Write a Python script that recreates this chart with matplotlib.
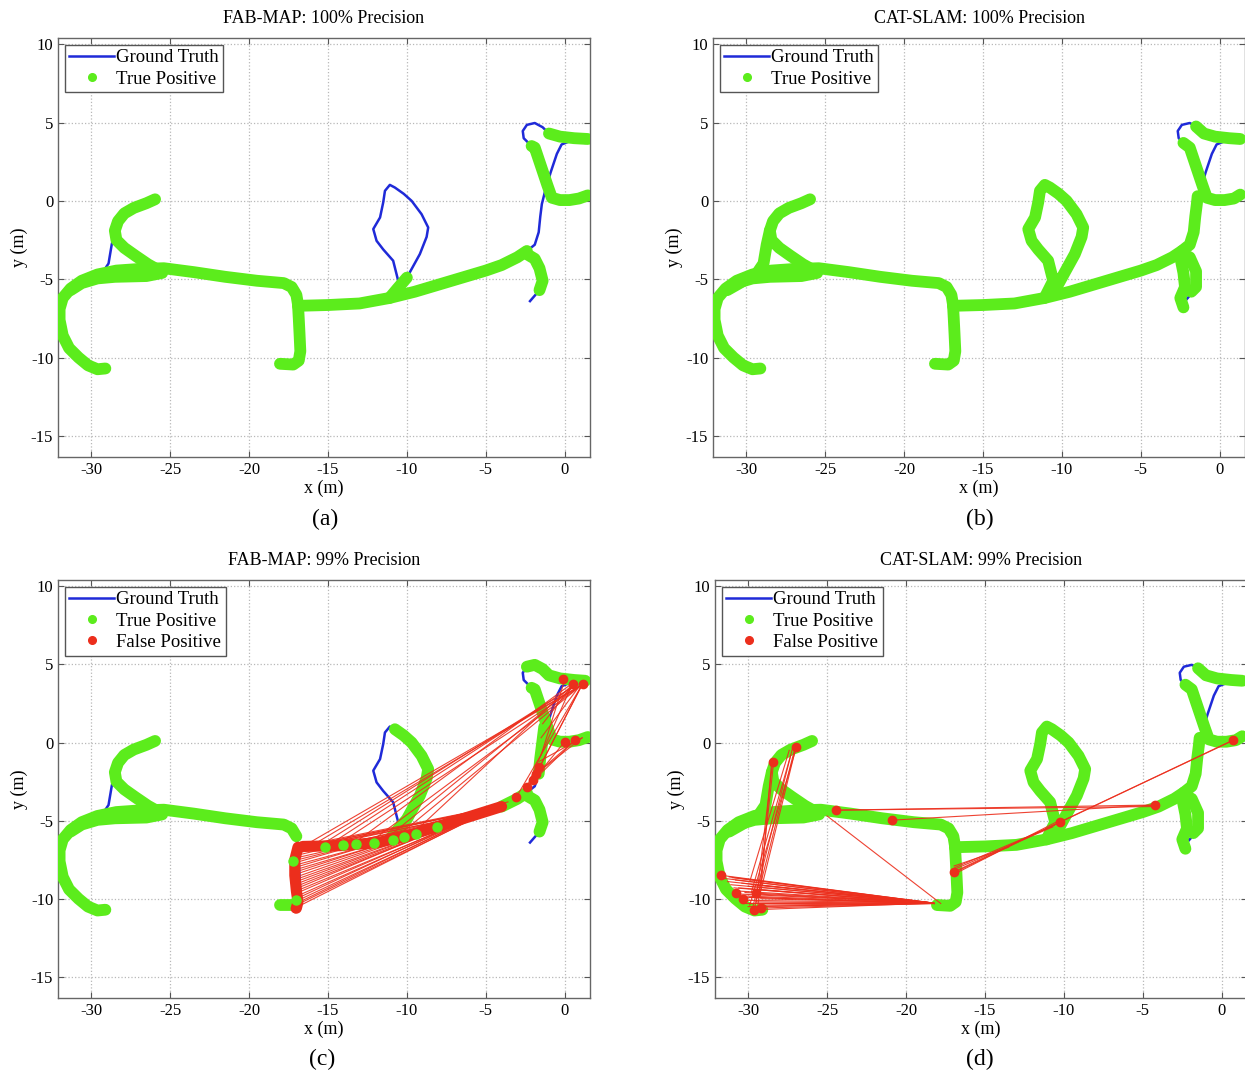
import numpy as np
import matplotlib.pyplot as plt
from matplotlib.lines import Line2D

plt.rcParams['font.family'] = ['Liberation Serif', 'DejaVu Serif']
plt.rcParams['axes.unicode_minus'] = False

# ---- ground truth route, split into pieces (x, y in metres) ----
gt_top_left = [(-25.95, 0.1), (-26.5, -0.15), (-27.3, -0.45), (-27.9, -0.8), (-28.3, -1.3),
               (-28.5, -1.9), (-28.4, -2.5), (-27.9, -3.0), (-27.2, -3.5), (-26.4, -4.05),
               (-25.6, -4.5)]
gt_left_loop = [(-28.5, -1.9), (-28.7, -2.8), (-28.9, -4.0), (-29.3, -4.6), (-30.5, -5.3), (-31.2, -5.7)]
gt_band = [(-31.3, -5.7), (-30.6, -5.25), (-29.6, -4.95), (-28.5, -4.85), (-26.5, -4.8), (-25.5, -4.6)]
gt_main_left = [(-29.1, -10.7), (-29.6, -10.75), (-30.2, -10.5), (-30.8, -10.0), (-31.4, -9.4),
                (-31.8, -8.6), (-32.0, -7.6), (-32.0, -6.9), (-31.8, -6.2), (-31.3, -5.6),
                (-30.6, -5.1), (-29.6, -4.7), (-28.4, -4.45), (-27.0, -4.35), (-25.4, -4.3),
                (-23.5, -4.55), (-21.5, -4.85), (-19.5, -5.1), (-17.8, -5.25), (-17.3, -5.5),
                (-17.0, -6.0), (-16.9, -6.6), (-16.85, -7.5), (-16.8, -8.5), (-16.75, -9.6),
                (-16.85, -10.2), (-17.2, -10.45), (-18.04, -10.4)]
gt_main_mid = [(-16.9, -6.7), (-15.0, -6.65), (-13.0, -6.55), (-11.1, -6.2), (-9.5, -5.8),
               (-8.0, -5.35), (-6.5, -4.9), (-5.0, -4.45), (-4.0, -4.1), (-3.0, -3.6), (-2.4, -3.2)]
gt_loop_mid = [(-11.1, -6.2), (-10.55, -5.1), (-10.87, -3.82), (-11.5, -3.1), (-11.92, -2.55),
               (-12.13, -1.8), (-11.7, -1.06), (-11.5, -0.1), (-11.39, 0.64), (-11.08, 1.02),
               (-10.76, 0.85), (-10.2, 0.45), (-9.7, 0.0), (-9.07, -0.85), (-8.65, -1.7),
               (-8.75, -2.3), (-9.18, -3.4), (-9.7, -4.35), (-10.0, -4.9), (-10.6, -6.0)]
gt_right_up = [(-2.4, -3.2), (-1.9, -2.8), (-1.65, -2.0), (-1.55, -1.0), (-1.45, -0.2),
               (-1.25, 0.6), (-0.9, 1.8), (-0.5, 3.0), (-0.2, 3.6), (0.3, 3.8), (0.9, 3.75),
               (1.3, 3.7), (1.6, 4.05)]
gt_right_loop = [(1.46, 3.95), (0.6, 4.0), (-0.3, 4.1), (-1.0, 4.3), (-1.4, 4.7), (-1.9, 4.97),
                 (-2.4, 4.85), (-2.66, 4.46), (-2.6, 4.0), (-2.3, 3.7), (-1.9, 3.4), (-1.5, 2.2),
                 (-1.1, 1.0), (-0.82, 0.2), (-0.3, 0.05), (0.3, 0.05), (0.9, 0.15), (1.46, 0.35)]
gt_right_down = [(-2.4, -3.4), (-1.9, -3.7), (-1.6, -4.3), (-1.4, -5.1), (-1.6, -5.7), (-2.2, -6.4)]

ground_truth = [gt_top_left, gt_left_loop, gt_band, gt_main_left, gt_main_mid,
                gt_loop_mid, gt_right_up, gt_right_loop, gt_right_down]

# ---- partial true-positive stretches ----
tp_loop_base = [(-11.1, -6.2), (-10.6, -5.6), (-10.0, -4.9)]
tp_loop_right = [(-11.1, -6.2), (-10.6, -5.6), (-10.0, -4.9), (-9.7, -4.35), (-9.18, -3.4),
                 (-8.75, -2.3), (-8.65, -1.7), (-9.07, -0.85), (-9.7, 0.0), (-10.2, 0.45), (-10.76, 0.85)]
tp_rloop_top = [(1.46, 3.95), (0.6, 4.0), (-0.3, 4.1), (-1.0, 4.3)]
tp_rloop_top_long = [(1.3, 3.95), (0.6, 4.0), (-0.3, 4.1), (-1.0, 4.3), (-1.4, 4.7), (-1.9, 4.97), (-2.4, 4.85)]
tp_rloop_top_b = [(1.3, 3.95), (0.6, 4.0), (-0.3, 4.1), (-1.0, 4.3), (-1.5, 4.75)]
tp_rloop_diag = [(-2.1, 3.5), (-1.9, 3.4), (-1.5, 2.2), (-1.1, 1.0), (-0.82, 0.2), (-0.3, 0.05),
                 (0.3, 0.05), (0.9, 0.15), (1.46, 0.35)]
tp_rloop_diag_b = [(-2.3, 3.7), (-1.9, 3.4), (-1.5, 2.2), (-1.1, 1.0), (-0.82, 0.2), (-0.3, 0.05),
                   (0.3, 0.05), (0.9, 0.15), (1.3, 0.4)]
tp_right_up_low = [(-2.4, -3.2), (-1.9, -2.8), (-1.65, -2.0), (-1.55, -1.0), (-1.45, -0.2), (-1.4, 0.3)]
tp_right_up_c = [(-1.65, -2.0), (-1.55, -1.0), (-1.45, -0.2), (-1.3, 1.0)]
tp_right_down = [(-2.4, -3.4), (-1.9, -3.7), (-1.6, -4.3), (-1.4, -5.1), (-1.6, -5.7)]
tp_right_down_b = [(-2.4, -3.4), (-1.9, -3.6), (-1.5, -4.5), (-1.5, -5.5), (-1.8, -5.8)]
tp_right_down_b2 = [(-2.5, -3.6), (-2.3, -4.6), (-2.2, -5.5), (-2.5, -6.2), (-2.3, -6.8)]
tp_main_end = [(-4.0, -4.1), (-3.0, -3.6), (-2.4, -3.2)]
tp_vert_foot = [(-17.0, -10.4), (-18.04, -10.4)]
tp_main_left_c = gt_main_left[:21]

tp_dots_c = [(-15.2, -6.67), (-14.03, -6.56), (-13.2, -6.5), (-12.1, -6.45), (-10.9, -6.24),
             (-10.2, -6.03), (-9.4, -5.86), (-8.1, -5.4), (-17.2, -7.6), (-17.0, -10.1)]

# ---- false positives: dense stretches and match lines ----
fp_c_band = [(-16.6, -6.65), (-14.2, -6.6), (-11.8, -6.4), (-9.4, -5.8), (-7.0, -5.05), (-4.0, -4.1)]
fp_c_vert = [(-16.9, -6.7), (-17.1, -7.5), (-17.1, -8.5), (-17.0, -9.5), (-16.9, -10.2), (-17.0, -10.6)]
fp_c_src = [(-17.0, -6.8), (-17.0, -6.95), (-17.1, -7.1), (-17.1, -7.25), (-17.1, -7.4), (-17.1, -7.55),
            (-17.1, -7.7), (-17.1, -7.85), (-17.1, -8.0), (-17.1, -8.15), (-17.1, -8.3), (-17.1, -8.45),
            (-17.0, -8.6), (-17.0, -8.75), (-17.0, -8.9), (-17.0, -9.05), (-17.0, -9.2), (-17.0, -9.35),
            (-17.0, -9.5), (-17.0, -9.65), (-16.9, -9.8), (-16.9, -9.95), (-16.9, -10.1), (-16.9, -10.25),
            (-17.0, -10.4), (-17.0, -10.55), (-16.6, -6.6), (-16.3, -6.6), (-16.0, -6.62), (-15.6, -6.6),
            (-16.5, -6.6), (-15.5, -6.6), (-14.5, -6.6), (-13.5, -6.55), (-12.5, -6.5), (-11.5, -6.3),
            (-10.6, -6.0), (-9.6, -5.8), (-16.2, -6.7), (-15.0, -6.6),
            (-3.06, -3.48), (-2.4, -2.85), (-2.0, -2.4), (-1.8, -2.0), (-1.6, -1.57), (-1.5, -0.8),
            (-1.5, 0.3), (-1.4, 1.2), (-2.4, -2.85), (-1.8, -2.0), (-2.0, -2.4), (-1.6, -1.2)]
fp_c_dst = [(-4.2, -4.1), (-5.0, -4.4), (-6.0, -4.8), (-4.6, -4.25), (-7.0, -5.1), (-5.5, -4.6),
            (-3.6, -3.8), (-8.0, -5.4), (-4.0, -4.05), (-6.5, -5.0), (-4.2, -4.1), (-5.0, -4.4),
            (-4.4, -4.15), (-6.0, -4.8), (-4.1, -4.05), (-5.5, -4.6), (-4.3, -4.1), (-7.0, -5.1),
            (-4.0, -4.05), (-4.8, -4.3), (-4.2, -4.1), (-6.0, -4.8), (-4.1, -4.05), (-5.2, -4.5),
            (-4.2, -4.1), (-4.5, -4.2), (-4.0, -4.05), (-4.6, -4.25), (-5.5, -4.6), (-4.1, -4.05),
            (1.1, 3.7), (0.8, 3.75), (1.1, 3.7), (0.5, 3.8), (1.1, 3.7), (0.8, 3.75),
            (1.1, 3.7), (0.6, 3.8), (1.1, 3.7), (0.8, 3.75),
            (1.1, 3.7), (0.5, 3.8), (1.1, 3.7), (0.6, 0.1), (1.1, 3.7), (0.0, 4.0),
            (1.0, 3.7), (0.6, 3.8), (0.6, 0.1), (1.1, 0.3), (0.0, 0.05), (1.1, 0.3)]
fp_c_dots = [(-0.1, 4.05), (0.5, 3.74), (1.16, 3.74), (0.0, 0.02), (0.63, 0.13),
             (-3.06, -3.48), (-2.4, -2.85), (-2.0, -2.4), (-1.8, -2.0), (-1.6, -1.57), (-17.1, -10.6)]

fp_d_src = [(-31.7, -8.5), (-31.5, -8.7), (-31.3, -8.9), (-31.1, -9.1), (-30.9, -9.3), (-30.7, -9.5),
            (-30.5, -9.7), (-30.3, -9.9), (-30.1, -10.1), (-29.9, -10.3), (-29.7, -10.5), (-29.5, -10.7),
            (-31.2, -8.6), (-30.8, -8.8), (-30.4, -9.0), (-30.0, -9.2), (-29.7, -9.4), (-29.4, -9.7),
            (-29.2, -10.0), (-29.3, -10.4), (-30.6, -9.3), (-30.2, -9.6), (-29.9, -9.9), (-30.8, -9.8),
            (-30.4, -10.3), (-29.6, -10.6), (-31.0, -8.65), (-29.8, -9.1), (-29.5, -10.2), (-30.0, -10.5),
            (-28.45, -1.25), (-27.2, -0.4), (-26.97, -0.3), (-27.1, -0.6), (-27.0, -0.5),
            (-28.4, -1.4), (-27.3, -0.8), (-28.5, -1.1), (-27.4, -0.5),
            (-24.45, -4.33), (-24.45, -4.33), (-20.9, -4.97), (-25.0, -4.7),
            (-16.93, -8.26), (-16.9, -8.0), (-16.9, -8.4), (-16.95, -7.9), (-16.9, -8.1), (-16.9, -8.3)]
fp_d_dst = [(-18.3, -10.27), (-18.3, -10.27), (-18.2, -10.3), (-18.3, -10.27), (-18.2, -10.3),
            (-18.3, -10.27), (-18.3, -10.27), (-18.2, -10.3), (-18.3, -10.27), (-18.3, -10.27),
            (-18.2, -10.3), (-18.3, -10.27), (-18.3, -10.27), (-18.2, -10.3), (-18.3, -10.27),
            (-18.3, -10.27), (-18.2, -10.3), (-18.3, -10.27), (-18.3, -10.27), (-18.2, -10.3),
            (-18.3, -10.27), (-18.3, -10.27), (-18.2, -10.3), (-18.3, -10.27), (-18.3, -10.27),
            (-18.2, -10.3), (-18.3, -10.27), (-18.3, -10.27), (-18.2, -10.3), (-18.3, -10.27),
            (-29.5, -10.2), (-29.7, -10.5), (-29.3, -9.9), (-29.6, -10.6), (-29.9, -10.4),
            (-29.4, -10.6), (-29.8, -9.6), (-29.2, -9.4), (-29.9, -8.9),
            (-4.25, -4.0), (-4.5, -4.1), (-4.25, -4.0), (-17.8, -10.3),
            (0.72, 0.13), (-10.6, -5.3), (-10.5, -5.1), (-13.5, -6.7), (-10.7, -5.4), (0.6, 0.1)]
fp_d_dots = [(-28.45, -1.25), (-26.97, -0.3), (-24.45, -4.33), (-20.9, -4.97), (-16.93, -8.26),
             (-4.25, -4.0), (0.72, 0.13), (-31.7, -8.5), (-29.6, -10.7), (-29.2, -10.6), (-30.3, -10.0),
             (-10.27, -5.08), (-29.5, -9.6), (-30.8, -9.6)]

titles = ['FAB-MAP: 100% Precision', 'CAT-SLAM: 100% Precision',
          'FAB-MAP: 99% Precision', 'CAT-SLAM: 99% Precision']
letters = ['(a)', '(b)', '(c)', '(d)']

tp_sets = [
    [gt_top_left, gt_band, gt_main_left, gt_main_mid, tp_loop_base, tp_rloop_top,
     tp_rloop_diag, tp_right_down],
    [gt_top_left, gt_left_loop, gt_band, gt_main_left, gt_main_mid, gt_loop_mid,
     tp_right_up_low, tp_rloop_top_b, tp_rloop_diag_b, tp_right_down_b, tp_right_down_b2],
    [gt_top_left, gt_band, tp_main_left_c, tp_vert_foot, tp_loop_right, tp_main_end,
     tp_right_up_c, tp_rloop_top_long, tp_rloop_diag, tp_right_down],
    [gt_top_left, gt_left_loop, gt_band, gt_main_left, gt_main_mid, gt_loop_mid,
     tp_right_up_low, tp_rloop_top_b, tp_rloop_diag_b, tp_right_down_b, tp_right_down_b2],
]
fp_bands = [[], [], [fp_c_band, fp_c_vert], []]
fp_lines = [None, None, (fp_c_src, fp_c_dst), (fp_d_src, fp_d_dst)]
fp_dots = [[], [], fp_c_dots, fp_d_dots]
tp_dots = [[], [], tp_dots_c, []]

BLUE = '#1f2ad8'
GREEN = '#5cec1c'
RED = '#ec2e1c'

fig = plt.figure(figsize=(12.45, 10.75), dpi=100)
boxes = [[0.0466, 0.5749, 0.4273, 0.3898], [0.5727, 0.5749, 0.4273, 0.3898],
         [0.0466, 0.0716, 0.4273, 0.3889], [0.5743, 0.0716, 0.4273, 0.3889]]
letter_pos = [(0.261, 0.517), (0.787, 0.517), (0.259, 0.014), (0.787, 0.014)]

for i in range(4):
    ax = fig.add_axes(boxes[i])
    for seg in ground_truth:
        a = np.asarray(seg)
        ax.plot(a[:, 0], a[:, 1], color=BLUE, lw=1.8, zorder=2)
    for seg in tp_sets[i]:
        a = np.asarray(seg)
        ax.plot(a[:, 0], a[:, 1], color=GREEN, lw=8.5, zorder=3,
                solid_capstyle='round', solid_joinstyle='round')
    if fp_lines[i] is not None:
        src, dst = np.asarray(fp_lines[i][0]), np.asarray(fp_lines[i][1])
        for s, d in zip(src, dst):
            ax.plot([s[0], d[0]], [s[1], d[1]], color=RED, lw=0.8, alpha=0.9, zorder=4)
    for band in fp_bands[i]:
        a = np.asarray(band)
        ax.plot(a[:, 0], a[:, 1], color=RED, lw=8, zorder=4.5,
                solid_capstyle='round', solid_joinstyle='round')
    if len(fp_dots[i]):
        a = np.asarray(fp_dots[i])
        ax.plot(a[:, 0], a[:, 1], 'o', color=RED, ms=6, zorder=5)
    if len(tp_dots[i]):
        a = np.asarray(tp_dots[i])
        ax.plot(a[:, 0], a[:, 1], 'o', color=GREEN, ms=6.5, zorder=6)

    ax.set_xlim(-32.1, 1.6)
    ax.set_ylim(-16.35, 10.4)
    ax.set_xticks([-30, -25, -20, -15, -10, -5, 0])
    ax.set_yticks([-15, -10, -5, 0, 5, 10])
    ax.tick_params(direction='in', length=4, labelsize=12, top=True, right=True, color='#555555')
    ax.grid(True, linestyle=':', color='#b8b8b8', lw=0.9)
    ax.set_axisbelow(True)
    for sp in ax.spines.values():
        sp.set_color('#666666')
        sp.set_linewidth(1.0)
    ax.set_title(titles[i], fontsize=13, pad=10.5)
    ax.set_xlabel('x (m)', fontsize=13, labelpad=1)
    ax.set_ylabel('y (m)', fontsize=13, labelpad=2)

    handles = [Line2D([], [], color=BLUE, lw=1.8, label='Ground Truth'),
               Line2D([], [], color=GREEN, marker='o', ls='none', ms=5.5, label='True Positive')]
    if i >= 2:
        handles.append(Line2D([], [], color=RED, marker='o', ls='none', ms=5.5, label='False Positive'))
    ax.legend(handles=handles, loc='upper left', fontsize=13.5, fancybox=False, framealpha=1,
              edgecolor='#555555', borderpad=0.25, labelspacing=0.22, handlelength=2.4,
              handletextpad=0.1, borderaxespad=0.35)
    fig.text(letter_pos[i][0], letter_pos[i][1], letters[i], fontsize=17, ha='center', va='center')

fig.savefig('out.png', dpi=100)
